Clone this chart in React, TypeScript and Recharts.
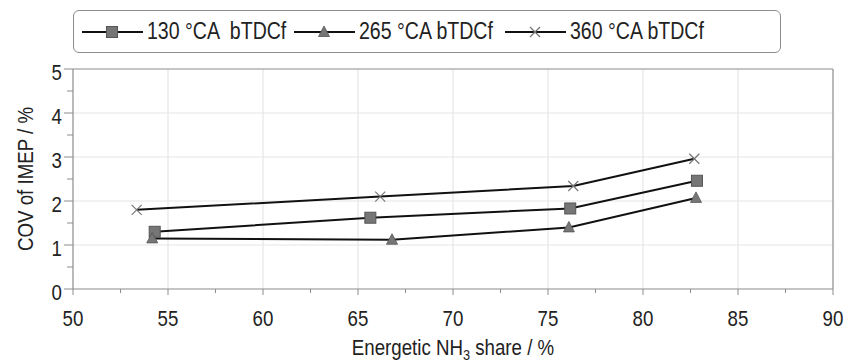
import React from 'react';
import {
  LineChart,
  Line,
  XAxis,
  YAxis,
  ReferenceLine,
  Legend,
} from 'recharts';

// Energetic NH3 share (%) and COV of IMEP (%) per injection timing
const share130 = [54.3, 65.65, 76.17, 82.84];
const cov130 = [1.3, 1.62, 1.83, 2.46];
const share265 = [54.17, 66.79, 76.1, 82.79];
const cov265 = [1.15, 1.12, 1.4, 2.07];
const share360 = [53.35, 66.17, 76.33, 82.7];
const cov360 = [1.8, 2.1, 2.34, 2.96];

const seriesNames = ['130 °CA  bTDCf', '265 °CA bTDCf', '360 °CA bTDCf'];

const xTicks = [50, 52.5, 55, 57.5, 60, 62.5, 65, 67.5, 70, 72.5, 75, 77.5, 80, 82.5, 85, 87.5, 90];
const yTicks = [0, 0.5, 1, 1.5, 2, 2.5, 3, 3.5, 4, 4.5, 5];
const xMajor = [55, 60, 65, 70, 75, 80, 85];
const yMajor = [1, 2, 3, 4];

const FONT = '"Liberation Sans", Arial, sans-serif';
const NARROW = 0.85; // the original uses a condensed face
const AXIS = '#8c8c8c';
const GRID = '#e6e6e6';
const MARK = '#767676';
const INK = '#222';

const toPoints = (xs: number[], ys: number[]) => xs.map((x, i) => ({ x, y: ys[i] }));
const data130 = toPoints(share130, cov130);
const data265 = toPoints(share265, cov265);
const data360 = toPoints(share360, cov360);

const SquareDot = (props: any) => {
  const { cx, cy } = props;
  if (cx == null || cy == null) return null;
  return <rect x={cx - 5.5} y={cy - 5.5} width={11} height={11} fill={MARK} stroke="#555" strokeWidth={1} />;
};

const TriangleDot = (props: any) => {
  const { cx, cy } = props;
  if (cx == null || cy == null) return null;
  return (
    <polygon
      points={`${cx},${cy - 6} ${cx + 5.5},${cy + 4.5} ${cx - 5.5},${cy + 4.5}`}
      fill={MARK}
      stroke="#555"
      strokeWidth={0.8}
    />
  );
};

const CrossDot = (props: any) => {
  const { cx, cy } = props;
  if (cx == null || cy == null) return null;
  return (
    <g stroke={MARK} strokeWidth={1.2}>
      <line x1={cx - 5} y1={cy - 5} x2={cx + 5} y2={cy + 5} />
      <line x1={cx - 5} y1={cy + 5} x2={cx + 5} y2={cy - 5} />
    </g>
  );
};

// condensed svg text drawn at (x, y)
const NText = ({ x, y, anchor = 'start', size = 22, rotate = 0, children }: any) => (
  <text
    transform={`translate(${x},${y}) rotate(${rotate}) scale(${NARROW},1)`}
    textAnchor={anchor}
    fontSize={size}
    fontFamily={FONT}
    fill={INK}
  >
    {children}
  </text>
);

const XTick = (props: any) => {
  const { x, y, payload } = props;
  const major = payload.value % 5 === 0;
  return (
    <g>
      <line x1={x} x2={x} y1={y} y2={y + (major ? 6 : 4)} stroke={AXIS} />
      {major && (
        <NText x={x} y={y + 37} anchor="middle">
          {payload.value}
        </NText>
      )}
    </g>
  );
};

const YTick = (props: any) => {
  const { x, y, payload } = props;
  const major = payload.value % 1 === 0;
  return (
    <g>
      <line x1={x} x2={x - (major ? 9 : 6)} y1={y} y2={y} stroke={AXIS} />
      {major && (
        <NText x={x - 11} y={y + 11} anchor="end">
          {payload.value}
        </NText>
      )}
    </g>
  );
};

const XTitle = (props: any) => {
  const { viewBox } = props;
  const cx = viewBox.x + viewBox.width / 2;
  return (
    <NText x={cx} y={viewBox.y + 66} anchor="middle">
      Energetic NH
      <tspan fontSize={15} dy={5}>3</tspan>
      <tspan dy={-5}> share / %</tspan>
    </NText>
  );
};

const YTitle = (props: any) => {
  const { viewBox } = props;
  const cy = viewBox.y + viewBox.height / 2;
  return (
    <NText x={33} y={cy} anchor="middle" rotate={-90}>
      COV of IMEP / %
    </NText>
  );
};

const legendMarkers = [SquareDot, TriangleDot, CrossDot];

const LegendBox = () => (
  <div
    style={{
      width: 708,
      height: 43,
      border: '1px solid #8c8c8c',
      borderRadius: 6,
      display: 'flex',
      alignItems: 'center',
      paddingLeft: 8,
      boxSizing: 'border-box',
      fontFamily: FONT,
      fontSize: 23,
      color: INK,
    }}
  >
    {seriesNames.map((name, i) => {
      const Marker = legendMarkers[i];
      return (
        <div key={name} style={{ display: 'flex', alignItems: 'center' }}>
          <svg width={61} height={20} style={{ marginRight: 4 }}>
            <line x1={0} x2={61} y1={10} y2={10} stroke="#111" strokeWidth={2} />
            <Marker cx={30} cy={10} />
          </svg>
          <span style={{ display: 'inline-block', width: i === 0 ? 147 : i === 1 ? 146 : 140, whiteSpace: 'pre' }}>
            <span style={{ display: 'inline-block', transform: `scaleX(${NARROW})`, transformOrigin: 'left center' }}>
              {name}
            </span>
          </span>
        </div>
      );
    })}
  </div>
);

export default function App() {
  return (
    <div style={{ position: 'absolute', left: 0, top: 0, background: '#fff' }}>
      <LineChart width={846} height={362} margin={{ top: 69, right: 13, bottom: 0, left: 12 }}>
        {xMajor.map((v) => (
          <ReferenceLine key={`gx${v}`} x={v} stroke={GRID} strokeWidth={1.2} />
        ))}
        {yMajor.map((v) => (
          <ReferenceLine key={`gy${v}`} y={v} stroke={GRID} strokeWidth={1.2} />
        ))}
        <ReferenceLine y={5} stroke={AXIS} strokeWidth={1.2} />
        <ReferenceLine x={90} stroke={AXIS} strokeWidth={1.2} />
        <XAxis
          type="number"
          dataKey="x"
          domain={[50, 90]}
          ticks={xTicks}
          interval={0}
          tickSize={0}
          tickMargin={0}
          tickLine={false}
          tick={<XTick />}
          axisLine={{ stroke: AXIS, strokeWidth: 1.2 }}
          height={73}
          allowDuplicatedCategory={false}
          label={<XTitle />}
        />
        <YAxis
          type="number"
          domain={[0, 5]}
          ticks={yTicks}
          interval={0}
          tickSize={0}
          tickMargin={0}
          tickLine={false}
          tick={<YTick />}
          axisLine={{ stroke: AXIS, strokeWidth: 1.2 }}
          width={61}
          label={<YTitle />}
        />
        <Legend
          layout="horizontal"
          verticalAlign="middle"
          align="center"
          wrapperStyle={{ top: 10, left: 73, width: 708, height: 43 }}
          content={<LegendBox />}
        />
        <Line data={data130} dataKey="y" name={seriesNames[0]} stroke="#111" strokeWidth={2} dot={<SquareDot />} isAnimationActive={false} />
        <Line data={data265} dataKey="y" name={seriesNames[1]} stroke="#111" strokeWidth={2} dot={<TriangleDot />} isAnimationActive={false} />
        <Line data={data360} dataKey="y" name={seriesNames[2]} stroke="#111" strokeWidth={2} dot={<CrossDot />} isAnimationActive={false} />
      </LineChart>
    </div>
  );
}
